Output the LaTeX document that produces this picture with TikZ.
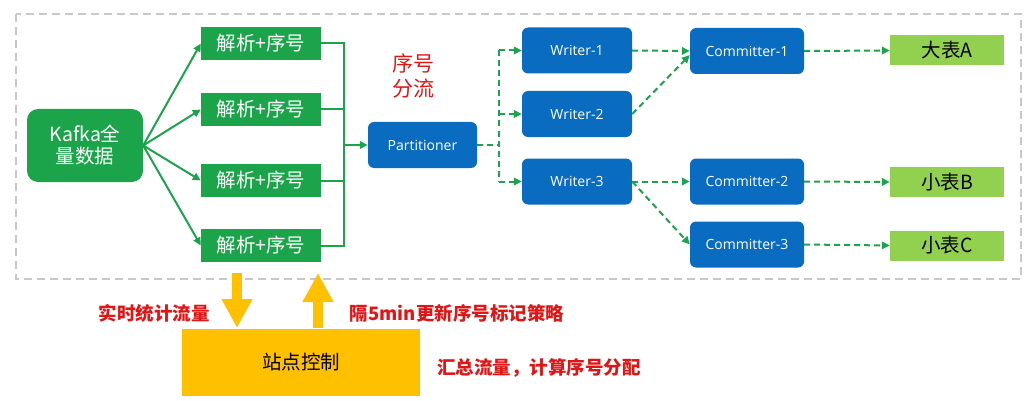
\documentclass[tikz,border=0pt]{standalone}
\usepackage{fontspec}
\setmainfont{Noto Sans CJK SC}
\newfontfamily\latinfont{Open Sans}
\usetikzlibrary{arrows.meta}
\definecolor{kgreen}{RGB}{27,164,74}
\definecolor{lgreen}{RGB}{146,208,80}
\definecolor{kblue}{RGB}{10,108,192}
\definecolor{korange}{RGB}{255,192,0}
\definecolor{kred}{RGB}{224,22,22}
\definecolor{kgray}{RGB}{200,200,200}
\tikzset{
  greenbox/.style={fill=kgreen,text=white,inner sep=0pt,font=\fontsize{19.5}{22}\selectfont},
  bluebox/.style={fill=kblue,text=white,rounded corners=6pt,inner sep=0pt,minimum width=110pt,minimum height=46pt,font=\latinfont\fontsize{14}{16}\selectfont},
  tablebox/.style={fill=lgreen,text=black,inner sep=0pt,minimum width=114pt,minimum height=30pt,font=\fontsize{19.5}{22}\selectfont},
  redlabel/.style={text=kred,inner sep=0pt,font=\bfseries\fontsize{18.5}{22}\selectfont},
  solidarrow/.style={draw=kgreen,line width=2pt,-{Triangle[length=8pt,width=7.5pt]}},
  solidline/.style={draw=kgreen,line width=2pt},
  dasharrow/.style={draw=kgreen,line width=2pt,dash pattern=on 6pt off 4pt,-{Triangle[length=8pt,width=7.5pt]}},
  dashline/.style={draw=kgreen,line width=2pt,dash pattern=on 6pt off 4pt},
  bigarrow/.style={draw=korange,line width=10.5pt,-{Triangle[length=29pt,width=29pt]}},
}
\begin{document}
\begin{tikzpicture}[x=1pt,y=-1pt]
\useasboundingbox (0,0) rectangle (1035,401);
% outer dashed frame
\draw[kgray,line width=1.5pt,dash pattern=on 8pt off 5pt] (16,14) rectangle (1021,279);

% nodes
\node[greenbox,rounded corners=11pt,minimum width=116pt,minimum height=73pt,align=center] (kafka) at (85,145.5) {Kafka全\\量数据};
\node[greenbox,minimum width=120pt,minimum height=33pt] (p1) at (261,43.5) {解析+序号};
\node[greenbox,minimum width=120pt,minimum height=33pt] (p2) at (261,109.5) {解析+序号};
\node[greenbox,minimum width=120pt,minimum height=33pt] (p3) at (261,180.5) {解析+序号};
\node[greenbox,minimum width=120pt,minimum height=33pt] (p4) at (261,245.5) {解析+序号};

\node[bluebox,minimum width=109pt] (part) at (422.5,145) {Partitioner};
\node[text=kred,inner sep=0pt,align=center,font=\fontsize{21}{25}\selectfont] (lbl) at (413,75.5) {序号\\分流};

\node[bluebox] (w1) at (577,50.5) {Writer-1};
\node[bluebox] (w2) at (577,114) {Writer-2};
\node[bluebox] (w3) at (577,181.5) {Writer-3};

\node[bluebox,minimum width=114pt] (c1) at (747,51) {Committer-1};
\node[bluebox,minimum width=114pt] (c2) at (747,181.5) {Committer-2};
\node[bluebox,minimum width=114pt] (c3) at (747,244.5) {Committer-3};

\node[tablebox] (tA) at (947,50.5) {大表A};
\node[tablebox] (tB) at (947,182) {小表B};
\node[tablebox] (tC) at (947,245.5) {小表C};

\node[fill=korange,minimum width=238pt,minimum height=67pt,inner sep=0pt,font=\fontsize{19.5}{22}\selectfont] (ctrl) at (301,362.5) {站点控制};

\node[redlabel] (l1) at (154,313) {实时统计流量};
\node[redlabel] (l2) at (457,313) {隔5min更新序号标记策略};
\node[redlabel] (l3) at (539,368) {汇总流量，计算序号分配};

% Kafka fan-out
\foreach \p in {p1,p2,p3,p4}{
  \draw[solidarrow] (kafka.east) -- (\p.west);
}
% bus
\coordinate (busTop) at (344,43.5);
\coordinate (busBot) at (344,245.5);
\coordinate (busMid) at (344,145);
\draw[solidline] (p1.east) -- (busTop) -- (busBot) -- (p4.east);
\draw[solidline] (p2.east) -- (p2.east -| busTop);
\draw[solidline] (p3.east) -- (p3.east -| busTop);
\draw[solidarrow] (busMid) -- (part.west);

% partitioner split
\coordinate (split) at (499,145);
\coordinate (sTop) at (499,50.5);
\coordinate (sMid) at (499,114);
\coordinate (sBot) at (499,181.5);
\draw[dashline] (part.east) -- (split);
\draw[dashline] (sTop) -- (sBot);
\draw[dasharrow] (sTop) -- (w1.west);
\draw[dasharrow] (sMid) -- (w2.west);
\draw[dasharrow] (sBot) -- (w3.west);

% writers to committers
\draw[dasharrow] (w1.east) -- (c1.west);
\draw[dasharrow] (w2.east) -- ([yshift=-4pt]c1.west);
\draw[dasharrow] (w3.east) -- (c2.west);
\draw[dasharrow] (w3.east) -- (c3.west);

% committers to tables
\draw[dasharrow] (c1.east) -- (tA.west);
\draw[dasharrow] (c2.east) -- (tB.west);
\draw[dasharrow] (c3.east) -- (tC.west);

% orange arrows
\coordinate (dA) at (237,273);
\coordinate (dB) at (237,328);
\coordinate (uA) at (318,328);
\coordinate (uB) at (318,273);
\draw[bigarrow] (dA) -- (dB);
\draw[bigarrow] (uA) -- (uB);
\end{tikzpicture}
\end{document}
